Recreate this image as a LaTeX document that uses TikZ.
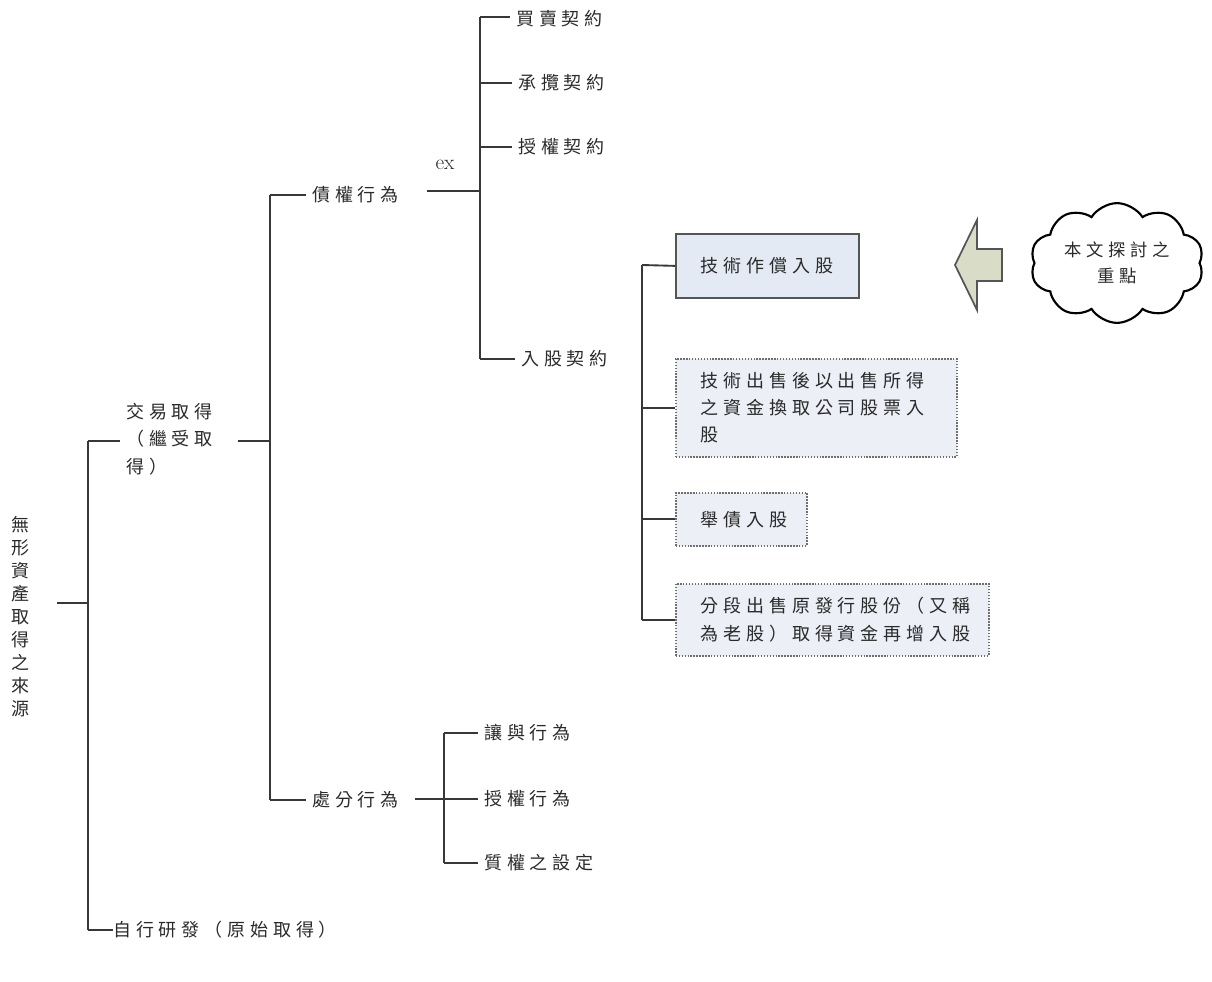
\documentclass[tikz,border=0pt]{standalone}
\usepackage{fontspec}
\usetikzlibrary{shapes.symbols}
\newfontfamily\cjk[LetterSpace=27]{Noto Sans CJK TC}
\definecolor{ln}{HTML}{383838}
\definecolor{txt}{HTML}{2A2A2A}
\definecolor{boxfill}{HTML}{E4EAF4}
\definecolor{dotfill}{HTML}{ECEFF6}
\definecolor{boxline}{HTML}{555555}
\definecolor{arrfill}{HTML}{D9DCC7}
\begin{document}
\begin{tikzpicture}[x=0.75pt,y=-0.75pt,
  lbl/.style={anchor=west,inner xsep=4.5pt,inner ysep=0pt,text=txt,
              font=\fontsize{13.5pt}{20.5pt}\cjk},
  conn/.style={draw=ln,line width=1.4pt},
  solidbox/.style={anchor=north west,draw=boxline,line width=1.3pt,fill=boxfill,
              inner xsep=18.75pt,inner ysep=0pt,align=left,text=txt,
              font=\fontsize{13.5pt}{20.5pt}\cjk},
  dotbox/.style={solidbox,fill=dotfill,draw=boxline!85,
              dash pattern=on 1.1pt off 1.1pt,line width=1.2pt}]
\useasboundingbox (0,0) rectangle (1212,981);

% ---------- nodes ----------
\node[lbl,anchor=center,inner xsep=0pt,align=center,font=\fontsize{13.5pt}{17.25pt}\cjk] (root) at (21,617)
  {無\\形\\資\\產\\取\\得\\之\\來\\源};
\node[lbl,align=left] (jy) at (120,439) {交易取得\\（繼受取\\得）};
\node[lbl,inner xsep=0pt] (zx) at (113,930) {自行研發（原始取得）};
\node[lbl] (zq) at (306,195) {債權行為};
\node[lbl] (cf) at (306,800) {處分行為};
\node[text=txt,font=\fontsize{16pt}{18pt}\selectfont,inner sep=0pt] (ex) at (445,165) {ex};
\node[lbl] (m1) at (510,19) {買賣契約};
\node[lbl] (m2) at (512,83) {承攬契約};
\node[lbl] (m3) at (512,147) {授權契約};
\node[lbl] (m4) at (515,359) {入股契約};
\node[lbl] (p1) at (478,733) {讓與行為};
\node[lbl] (p2) at (478,799) {授權行為};
\node[lbl] (p3) at (478,863) {質權之設定};

\node[solidbox,text width=99.75pt,minimum height=48pt] (box1) at (675,233) {技術作償入股};
\node[dotbox,text width=173.25pt,minimum height=73.5pt] (box2) at (675,358)
  {技術出售後以出售所得\\之資金換取公司股票入\\股};
\node[dotbox,text width=60.75pt,minimum height=39.75pt] (box3) at (675,492) {舉債入股};
\node[dotbox,text width=197.25pt,minimum height=54pt] (box4) at (675,583)
  {分段出售原發行股份（又稱\\為老股）取得資金再增入股};

\node[cloud,draw=black,line width=1.6pt,fill=white,cloud puffs=10,cloud puff arc=115,
      aspect=1.5,minimum width=130pt,minimum height=88pt,inner sep=0pt,align=center,
      text=txt,font=\fontsize{13pt}{20pt}\cjk] (cl) at (1117,263) {本文探討之\\重點};

% ---------- joints ----------
\coordinate (a1) at (57,603);
\coordinate (a2) at (88,603);
\coordinate (t1) at (88,441);
\coordinate (t2) at (88,930);
\coordinate (b0) at (238,441);
\coordinate (c1) at (270,195);
\coordinate (c2) at (270,800);
\coordinate (d0) at (427,191);
\coordinate (e1) at (480,17);
\coordinate (e2) at (480,359);
\coordinate (f0) at (415,799);
\coordinate (f1) at (444,733);
\coordinate (f2) at (444,863);
\coordinate (g1) at (642,265);
\coordinate (g2) at (642,620);

% ---------- connectors ----------
\draw[conn] (a1) -- (a2);
\draw[conn] (t1) -- (t2);
\draw[conn] (t1) -- (jy.west |- t1);
\draw[conn] (t2) -- (zx.west |- t2);
\draw[conn] (b0) -- (c1 |- b0);
\draw[conn] (c1) -- (c2);
\draw[conn] (c1) -- (zq.west |- c1);
\draw[conn] (c2) -- (cf.west |- c2);
\draw[conn] (d0) -- (e1 |- d0);
\draw[conn] (e1) -- (e2);
\draw[conn] (e1) -- (m1.west |- e1);
\draw[conn] (e1 |- m2.west) -- (m2.west);
\draw[conn] (e1 |- m3.west) -- (m3.west);
\draw[conn] (e2) -- (m4.west |- e2);
\draw[conn] (f0) -- (p2.west);
\draw[conn] (f1) -- (f2);
\draw[conn] (f1) -- (p1.west |- f1);
\draw[conn] (f2) -- (p3.west |- f2);
\draw[conn] (g1) -- (g2);
\draw[conn] (g1) -- (box1.west);
\draw[conn] (g1 |- box2.west) -- (box2.west);
\draw[conn] (g1 |- box3.west) -- (box3.west);
\draw[conn] (g2) -- (box4.west |- g2);

% ---------- block arrow ----------
\draw[draw=boxline,line width=1.3pt,fill=arrfill,line join=miter]
  (955,265) -- (977,220) -- (977,249) -- (1002,249) -- (1002,281)
  -- (977,281) -- (977,310) -- cycle;
\end{tikzpicture}
\end{document}
